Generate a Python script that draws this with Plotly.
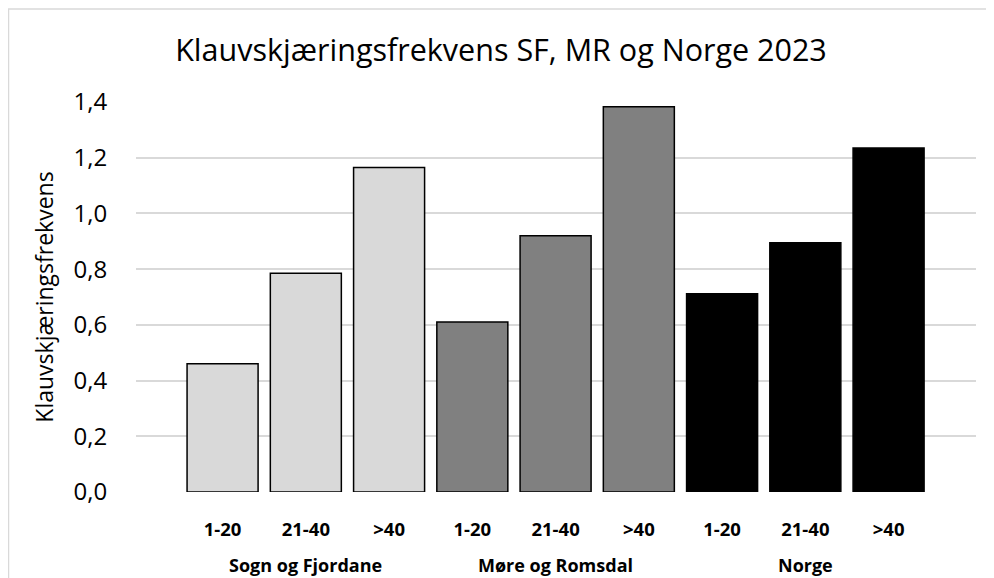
import plotly.graph_objects as go

groups = ["Sogn og Fjordane", "Møre og Romsdal", "Norge"]
categories = ["1-20", "21-40", ">40"]
values_sf = [0.46, 0.785, 1.165]
values_mr = [0.61, 0.92, 1.383]
values_no = [0.712, 0.895, 1.235]
colors = ["#d9d9d9", "#808080", "#000000"]
y_ticks = [0.0, 0.2, 0.4, 0.6, 0.8, 1.0, 1.2, 1.4]

FONT = "Open Sans"
series = [values_sf, values_mr, values_no]

fig = go.Figure()
all_keys = []
for g, vals, col in zip(groups, series, colors):
    keys = [f"{g}|{c}" for c in categories]
    all_keys += keys
    fig.add_trace(go.Bar(
        x=keys, y=vals, marker=dict(color=col, line=dict(color="#000000", width=1.5)),
        width=0.853, showlegend=False, name=g,
    ))

for g in groups:
    fig.add_annotation(x=f"{g}|{categories[1]}", xref="x", yref="paper", y=-0.187,
                       yanchor="middle", text=f"<b>{g}</b>", showarrow=False,
                       font=dict(family=FONT, size=18, color="#000000"))

fig.add_shape(type="rect", xref="paper", yref="paper", x0=-0.1518, x1=1.05, y0=-0.5, y1=1.2385,
              line=dict(color="#d9d9d9", width=1.5), fillcolor="rgba(0,0,0,0)", layer="below")

fig.update_layout(
    width=986, height=570,
    margin=dict(l=128, r=18, t=94, b=86),
    paper_bgcolor="white", plot_bgcolor="white",
    separators=", ",
    title=dict(text="Klauvskjæringsfrekvens SF, MR og Norge 2023", x=0.5, xanchor="center",
               y=1 - 42 / 570, yanchor="middle", yref="container",
               font=dict(family=FONT, size=30.5, color="#000000")),
    xaxis=dict(type="category", categoryorder="array", categoryarray=all_keys,
               tickvals=all_keys, ticktext=[f"<b>{c}</b>" for c in categories] * len(groups),
               range=[-1.04, 9.05], ticks="outside", ticklen=21, tickcolor="rgba(0,0,0,0)",
               tickfont=dict(family=FONT, size=18.5, color="#000000"), showgrid=False,
               showline=False, zeroline=False, fixedrange=True),
    yaxis=dict(range=[0, 1.4], tickvals=y_ticks, tickformat=".1f",
               showgrid=True, gridcolor="#d9d9d9", gridwidth=1.5, zeroline=False, showline=False,
               ticks="outside", ticklen=23, tickcolor="rgba(0,0,0,0)",
               tickfont=dict(family=FONT, size=24, color="#000000"),
               title=dict(text="Klauvskjæringsfrekvens", standoff=13,
                          font=dict(family=FONT, size=23, color="#000000"))),
)

fig.write_html("out.html")
